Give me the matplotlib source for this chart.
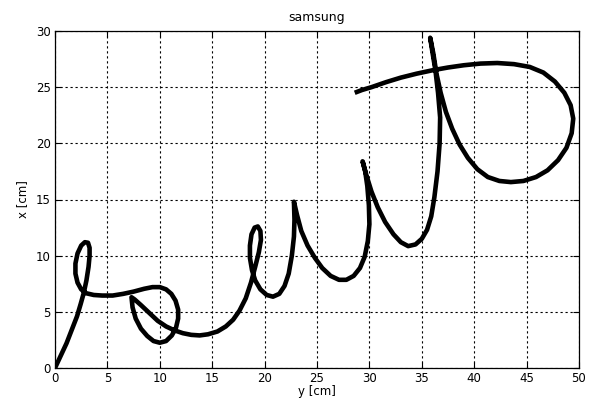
import matplotlib
matplotlib.use("Agg")
import matplotlib.pyplot as plt

# pen trajectory (horizontal: y [cm], vertical: x [cm])
traj_y = [0.0, 0.5, 1.1, 1.6, 2.1, 2.45, 2.75, 3.0, 3.2, 3.3, 3.3, 3.15, 2.85, 2.5, 2.15,
          1.95, 1.95, 2.15, 2.5, 3.0, 3.7, 4.5, 5.5, 6.5, 7.5, 8.5, 9.3, 10.0, 10.6,
          11.1, 11.5, 11.75, 11.75, 11.55, 11.15, 10.6, 10.0, 9.4, 8.8, 8.2, 7.7, 7.4,
          7.3, 7.6, 8.2, 9.0, 9.8, 10.6, 11.4, 12.2, 13.0, 13.8, 14.6, 15.5, 16.3, 17.0,
          17.6, 18.2, 18.7, 19.1, 19.45, 19.65, 19.6, 19.35, 19.05, 18.75, 18.6, 18.6,
          18.8, 19.1, 19.6, 20.2, 20.8, 21.4, 21.9, 22.3, 22.6, 22.8, 22.85, 22.8,
          23.1, 23.5, 24.1, 24.8, 25.5, 26.3, 27.1, 27.8, 28.5, 29.1, 29.55, 29.85, 30.0,
          29.95, 29.8, 29.6, 29.35,
          29.7, 30.2, 30.8, 31.5, 32.3, 33.0, 33.7, 34.4, 35.0, 35.5, 35.9, 36.2, 36.5,
          36.7, 36.75, 36.55, 36.3, 36.0, 35.8,
          36.1, 36.4, 36.8, 37.3, 37.9, 38.6, 39.4, 40.3, 41.3, 42.4, 43.5, 44.7, 45.9,
          47.0, 48.0, 48.8, 49.3, 49.45, 49.2, 48.6, 47.7, 46.6, 45.3, 43.8, 42.2, 40.6,
          39.0, 37.5, 36.0, 34.5, 33.0, 31.6, 30.2, 29.3, 28.6]
traj_x = [0.0, 1.0, 2.2, 3.4, 4.6, 5.7, 6.7, 7.8, 9.0, 10.0, 10.7, 11.15, 11.2, 10.9, 10.2,
          9.3, 8.4, 7.6, 7.0, 6.65, 6.5, 6.45, 6.45, 6.6, 6.8, 7.05, 7.2, 7.2, 7.0,
          6.6, 6.0, 5.2, 4.4, 3.6, 2.9, 2.4, 2.25, 2.4, 2.85, 3.5, 4.4, 5.4,
          6.3, 6.1, 5.6, 4.9, 4.2, 3.7, 3.35, 3.1, 2.95, 2.9, 3.0, 3.25, 3.7, 4.3,
          5.1, 6.2, 7.6, 9.0, 10.3, 11.4, 12.2, 12.6, 12.5, 11.9, 10.9, 9.8,
          8.7, 7.8, 7.0, 6.5, 6.35, 6.6, 7.3, 8.4, 10.0, 11.7, 13.2, 14.8,
          13.6, 12.2, 10.9, 9.8, 8.9, 8.2, 7.85, 7.85, 8.2, 8.9, 9.9, 11.3, 12.8,
          14.5, 16.2, 17.5, 18.4,
          17.2, 15.7, 14.3, 13.0, 11.9, 11.2, 10.85, 11.0, 11.5, 12.3, 13.5, 15.2, 17.5,
          20.0, 22.3, 24.5, 26.5, 28.2, 29.4,
          28.0, 26.2, 24.5, 22.8, 21.3, 19.9, 18.7, 17.7, 17.0, 16.65, 16.55, 16.65, 17.0,
          17.6, 18.5, 19.6, 20.9, 22.2, 23.4, 24.5, 25.5, 26.3, 26.8, 27.05, 27.15, 27.1,
          26.95, 26.75, 26.5, 26.2, 25.85, 25.45, 25.0, 24.75, 24.5]

xticks = [0, 5, 10, 15, 20, 25, 30, 35, 40, 45, 50]
yticks = [0, 5, 10, 15, 20, 25, 30]

plt.rcParams['font.family'] = ['DejaVu Sans']
fig = plt.figure(figsize=(5.93, 4.07), dpi=100)
ax = fig.add_axes([55/593, 39/407, (579-55)/593, (368-31)/407])
ax.plot(traj_y, traj_x, color='black', lw=3.3, solid_capstyle='butt', solid_joinstyle='round')
ax.set_xlim(0, 50)
ax.set_ylim(0, 30)
ax.set_xticks(xticks)
ax.set_yticks(yticks)
ax.tick_params(direction='in', length=4, width=0.8, labelsize=8.5, top=True, right=True,
               pad=3)
ax.grid(True, color='black', linestyle=(0, (2, 2.5)), linewidth=0.8)
for s in ax.spines.values():
    s.set_linewidth(0.9)
ax.set_xlabel('y [cm]', fontsize=8.5, labelpad=0)
ax.set_ylabel('x [cm]', fontsize=8.5, labelpad=5)
ax.set_title('samsung', fontsize=9, pad=7)
fig.savefig('out.png', dpi=100)
